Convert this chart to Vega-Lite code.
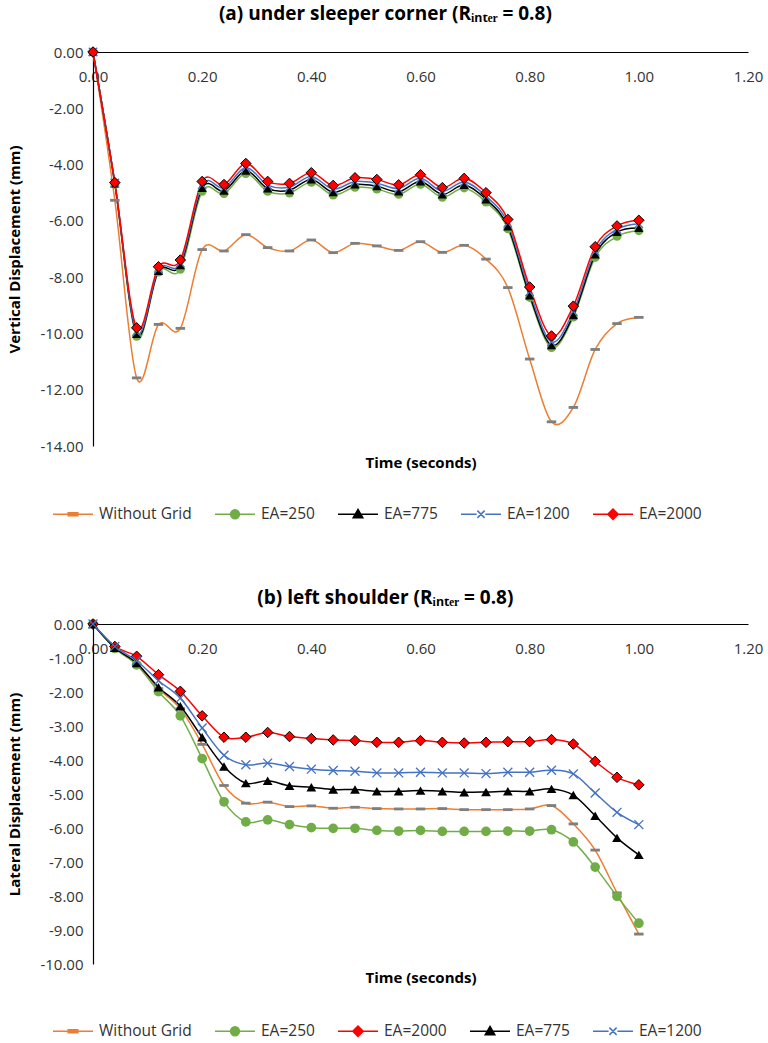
{
  "$schema": "https://vega.github.io/schema/vega-lite/v6.json",
  "background": "white",
  "padding": {"left": 7, "top": 4, "right": 4, "bottom": 0},
  "config": {
    "font": "Open Sans",
    "view": {"stroke": null},
    "locale": {"number": {"decimal": ".", "thousands": ",", "grouping": [3], "currency": ["$", ""], "minus": "-"}},
    "axis": {"labelFont": "Open Sans", "labelFontSize": 15, "labelColor": "#333333", "titleFont": "Open Sans", "titleFontSize": 15, "titleFontWeight": "bold", "titleColor": "#000000", "domainColor": "#000000", "domainWidth": 1.2, "ticks": false, "grid": false, "labelFlush": false, "labelOverlap": false},
    "legend": {"labelFont": "Open Sans", "labelFontSize": 15.5, "labelColor": "#333333", "padding": 0},
    "title": {"font": "Open Sans", "fontSize": 19, "fontWeight": "bold", "color": "#000000"}
  },
  "datasets": {
    "top": [
      {"t":0,"v":0,"s":"Without Grid"},{"t":0.04,"v":-5.27,"s":"Without Grid"},{"t":0.08,"v":-11.58,"s":"Without Grid"},{"t":0.12,"v":-9.68,"s":"Without Grid"},{"t":0.16,"v":-9.82,"s":"Without Grid"},{"t":0.2,"v":-7.02,"s":"Without Grid"},{"t":0.24,"v":-7.07,"s":"Without Grid"},{"t":0.28,"v":-6.49,"s":"Without Grid"},{"t":0.32,"v":-6.95,"s":"Without Grid"},{"t":0.36,"v":-7.07,"s":"Without Grid"},{"t":0.4,"v":-6.68,"s":"Without Grid"},{"t":0.44,"v":-7.13,"s":"Without Grid"},{"t":0.48,"v":-6.8,"s":"Without Grid"},{"t":0.52,"v":-6.89,"s":"Without Grid"},{"t":0.56,"v":-7.05,"s":"Without Grid"},{"t":0.6,"v":-6.74,"s":"Without Grid"},{"t":0.64,"v":-7.12,"s":"Without Grid"},{"t":0.68,"v":-6.87,"s":"Without Grid"},{"t":0.72,"v":-7.36,"s":"Without Grid"},{"t":0.76,"v":-8.37,"s":"Without Grid"},{"t":0.8,"v":-10.91,"s":"Without Grid"},{"t":0.84,"v":-13.14,"s":"Without Grid"},{"t":0.88,"v":-12.63,"s":"Without Grid"},{"t":0.92,"v":-10.57,"s":"Without Grid"},{"t":0.96,"v":-9.65,"s":"Without Grid"},{"t":1,"v":-9.43,"s":"Without Grid"},
      {"t":0,"v":0,"s":"EA=250"},{"t":0.04,"v":-4.7,"s":"EA=250"},{"t":0.08,"v":-10.1,"s":"EA=250"},{"t":0.12,"v":-7.82,"s":"EA=250"},{"t":0.16,"v":-7.72,"s":"EA=250"},{"t":0.2,"v":-4.95,"s":"EA=250"},{"t":0.24,"v":-5.03,"s":"EA=250"},{"t":0.28,"v":-4.32,"s":"EA=250"},{"t":0.32,"v":-4.95,"s":"EA=250"},{"t":0.36,"v":-5.01,"s":"EA=250"},{"t":0.4,"v":-4.63,"s":"EA=250"},{"t":0.44,"v":-5.08,"s":"EA=250"},{"t":0.48,"v":-4.81,"s":"EA=250"},{"t":0.52,"v":-4.87,"s":"EA=250"},{"t":0.56,"v":-5.06,"s":"EA=250"},{"t":0.6,"v":-4.7,"s":"EA=250"},{"t":0.64,"v":-5.16,"s":"EA=250"},{"t":0.68,"v":-4.83,"s":"EA=250"},{"t":0.72,"v":-5.33,"s":"EA=250"},{"t":0.76,"v":-6.28,"s":"EA=250"},{"t":0.8,"v":-8.72,"s":"EA=250"},{"t":0.84,"v":-10.5,"s":"EA=250"},{"t":0.88,"v":-9.42,"s":"EA=250"},{"t":0.92,"v":-7.3,"s":"EA=250"},{"t":0.96,"v":-6.55,"s":"EA=250"},{"t":1,"v":-6.35,"s":"EA=250"},
      {"t":0,"v":0,"s":"EA=775"},{"t":0.04,"v":-4.67,"s":"EA=775"},{"t":0.08,"v":-10.02,"s":"EA=775"},{"t":0.12,"v":-7.78,"s":"EA=775"},{"t":0.16,"v":-7.58,"s":"EA=775"},{"t":0.2,"v":-4.83,"s":"EA=775"},{"t":0.24,"v":-4.93,"s":"EA=775"},{"t":0.28,"v":-4.22,"s":"EA=775"},{"t":0.32,"v":-4.85,"s":"EA=775"},{"t":0.36,"v":-4.91,"s":"EA=775"},{"t":0.4,"v":-4.53,"s":"EA=775"},{"t":0.44,"v":-4.98,"s":"EA=775"},{"t":0.48,"v":-4.71,"s":"EA=775"},{"t":0.52,"v":-4.77,"s":"EA=775"},{"t":0.56,"v":-4.96,"s":"EA=775"},{"t":0.6,"v":-4.6,"s":"EA=775"},{"t":0.64,"v":-5.06,"s":"EA=775"},{"t":0.68,"v":-4.73,"s":"EA=775"},{"t":0.72,"v":-5.24,"s":"EA=775"},{"t":0.76,"v":-6.2,"s":"EA=775"},{"t":0.8,"v":-8.65,"s":"EA=775"},{"t":0.84,"v":-10.42,"s":"EA=775"},{"t":0.88,"v":-9.35,"s":"EA=775"},{"t":0.92,"v":-7.2,"s":"EA=775"},{"t":0.96,"v":-6.4,"s":"EA=775"},{"t":1,"v":-6.25,"s":"EA=775"},
      {"t":0,"v":0,"s":"EA=1200"},{"t":0.04,"v":-4.65,"s":"EA=1200"},{"t":0.08,"v":-9.95,"s":"EA=1200"},{"t":0.12,"v":-7.72,"s":"EA=1200"},{"t":0.16,"v":-7.5,"s":"EA=1200"},{"t":0.2,"v":-4.72,"s":"EA=1200"},{"t":0.24,"v":-4.83,"s":"EA=1200"},{"t":0.28,"v":-4.1,"s":"EA=1200"},{"t":0.32,"v":-4.73,"s":"EA=1200"},{"t":0.36,"v":-4.8,"s":"EA=1200"},{"t":0.4,"v":-4.42,"s":"EA=1200"},{"t":0.44,"v":-4.87,"s":"EA=1200"},{"t":0.48,"v":-4.6,"s":"EA=1200"},{"t":0.52,"v":-4.66,"s":"EA=1200"},{"t":0.56,"v":-4.85,"s":"EA=1200"},{"t":0.6,"v":-4.49,"s":"EA=1200"},{"t":0.64,"v":-4.95,"s":"EA=1200"},{"t":0.68,"v":-4.62,"s":"EA=1200"},{"t":0.72,"v":-5.13,"s":"EA=1200"},{"t":0.76,"v":-6.08,"s":"EA=1200"},{"t":0.8,"v":-8.52,"s":"EA=1200"},{"t":0.84,"v":-10.3,"s":"EA=1200"},{"t":0.88,"v":-9.22,"s":"EA=1200"},{"t":0.92,"v":-7.08,"s":"EA=1200"},{"t":0.96,"v":-6.3,"s":"EA=1200"},{"t":1,"v":-6.1,"s":"EA=1200"},
      {"t":0,"v":0,"s":"EA=2000"},{"t":0.04,"v":-4.64,"s":"EA=2000"},{"t":0.08,"v":-9.8,"s":"EA=2000"},{"t":0.12,"v":-7.63,"s":"EA=2000"},{"t":0.16,"v":-7.39,"s":"EA=2000"},{"t":0.2,"v":-4.6,"s":"EA=2000"},{"t":0.24,"v":-4.71,"s":"EA=2000"},{"t":0.28,"v":-3.96,"s":"EA=2000"},{"t":0.32,"v":-4.6,"s":"EA=2000"},{"t":0.36,"v":-4.67,"s":"EA=2000"},{"t":0.4,"v":-4.29,"s":"EA=2000"},{"t":0.44,"v":-4.74,"s":"EA=2000"},{"t":0.48,"v":-4.47,"s":"EA=2000"},{"t":0.52,"v":-4.53,"s":"EA=2000"},{"t":0.56,"v":-4.72,"s":"EA=2000"},{"t":0.6,"v":-4.36,"s":"EA=2000"},{"t":0.64,"v":-4.82,"s":"EA=2000"},{"t":0.68,"v":-4.49,"s":"EA=2000"},{"t":0.72,"v":-5.0,"s":"EA=2000"},{"t":0.76,"v":-5.95,"s":"EA=2000"},{"t":0.8,"v":-8.35,"s":"EA=2000"},{"t":0.84,"v":-10.09,"s":"EA=2000"},{"t":0.88,"v":-9.03,"s":"EA=2000"},{"t":0.92,"v":-6.92,"s":"EA=2000"},{"t":0.96,"v":-6.18,"s":"EA=2000"},{"t":1,"v":-5.98,"s":"EA=2000"}
    ],
    "bottom": [
      {"t":0,"v":0,"s":"Without Grid"},{"t":0.04,"v":-0.7,"s":"Without Grid"},{"t":0.08,"v":-1.18,"s":"Without Grid"},{"t":0.12,"v":-1.9,"s":"Without Grid"},{"t":0.16,"v":-2.49,"s":"Without Grid"},{"t":0.2,"v":-3.54,"s":"Without Grid"},{"t":0.24,"v":-4.75,"s":"Without Grid"},{"t":0.28,"v":-5.27,"s":"Without Grid"},{"t":0.32,"v":-5.24,"s":"Without Grid"},{"t":0.36,"v":-5.37,"s":"Without Grid"},{"t":0.4,"v":-5.35,"s":"Without Grid"},{"t":0.44,"v":-5.42,"s":"Without Grid"},{"t":0.48,"v":-5.39,"s":"Without Grid"},{"t":0.52,"v":-5.43,"s":"Without Grid"},{"t":0.56,"v":-5.44,"s":"Without Grid"},{"t":0.6,"v":-5.44,"s":"Without Grid"},{"t":0.64,"v":-5.43,"s":"Without Grid"},{"t":0.68,"v":-5.46,"s":"Without Grid"},{"t":0.72,"v":-5.46,"s":"Without Grid"},{"t":0.76,"v":-5.46,"s":"Without Grid"},{"t":0.8,"v":-5.44,"s":"Without Grid"},{"t":0.84,"v":-5.34,"s":"Without Grid"},{"t":0.88,"v":-5.88,"s":"Without Grid"},{"t":0.92,"v":-6.65,"s":"Without Grid"},{"t":0.96,"v":-7.91,"s":"Without Grid"},{"t":1,"v":-9.12,"s":"Without Grid"},
      {"t":0,"v":0,"s":"EA=250"},{"t":0.04,"v":-0.72,"s":"EA=250"},{"t":0.08,"v":-1.2,"s":"EA=250"},{"t":0.12,"v":-1.99,"s":"EA=250"},{"t":0.16,"v":-2.7,"s":"EA=250"},{"t":0.2,"v":-3.96,"s":"EA=250"},{"t":0.24,"v":-5.23,"s":"EA=250"},{"t":0.28,"v":-5.82,"s":"EA=250"},{"t":0.32,"v":-5.76,"s":"EA=250"},{"t":0.36,"v":-5.9,"s":"EA=250"},{"t":0.4,"v":-5.99,"s":"EA=250"},{"t":0.44,"v":-6.01,"s":"EA=250"},{"t":0.48,"v":-6.01,"s":"EA=250"},{"t":0.52,"v":-6.07,"s":"EA=250"},{"t":0.56,"v":-6.09,"s":"EA=250"},{"t":0.6,"v":-6.07,"s":"EA=250"},{"t":0.64,"v":-6.1,"s":"EA=250"},{"t":0.68,"v":-6.1,"s":"EA=250"},{"t":0.72,"v":-6.1,"s":"EA=250"},{"t":0.76,"v":-6.09,"s":"EA=250"},{"t":0.8,"v":-6.09,"s":"EA=250"},{"t":0.84,"v":-6.05,"s":"EA=250"},{"t":0.88,"v":-6.41,"s":"EA=250"},{"t":0.92,"v":-7.15,"s":"EA=250"},{"t":0.96,"v":-8.01,"s":"EA=250"},{"t":1,"v":-8.8,"s":"EA=250"},
      {"t":0,"v":0,"s":"EA=2000"},{"t":0.04,"v":-0.66,"s":"EA=2000"},{"t":0.08,"v":-0.95,"s":"EA=2000"},{"t":0.12,"v":-1.49,"s":"EA=2000"},{"t":0.16,"v":-1.98,"s":"EA=2000"},{"t":0.2,"v":-2.7,"s":"EA=2000"},{"t":0.24,"v":-3.33,"s":"EA=2000"},{"t":0.28,"v":-3.33,"s":"EA=2000"},{"t":0.32,"v":-3.19,"s":"EA=2000"},{"t":0.36,"v":-3.31,"s":"EA=2000"},{"t":0.4,"v":-3.37,"s":"EA=2000"},{"t":0.44,"v":-3.41,"s":"EA=2000"},{"t":0.48,"v":-3.43,"s":"EA=2000"},{"t":0.52,"v":-3.48,"s":"EA=2000"},{"t":0.56,"v":-3.48,"s":"EA=2000"},{"t":0.6,"v":-3.43,"s":"EA=2000"},{"t":0.64,"v":-3.48,"s":"EA=2000"},{"t":0.68,"v":-3.5,"s":"EA=2000"},{"t":0.72,"v":-3.48,"s":"EA=2000"},{"t":0.76,"v":-3.46,"s":"EA=2000"},{"t":0.8,"v":-3.46,"s":"EA=2000"},{"t":0.84,"v":-3.4,"s":"EA=2000"},{"t":0.88,"v":-3.53,"s":"EA=2000"},{"t":0.92,"v":-4.04,"s":"EA=2000"},{"t":0.96,"v":-4.51,"s":"EA=2000"},{"t":1,"v":-4.73,"s":"EA=2000"},
      {"t":0,"v":0,"s":"EA=775"},{"t":0.04,"v":-0.7,"s":"EA=775"},{"t":0.08,"v":-1.15,"s":"EA=775"},{"t":0.12,"v":-1.86,"s":"EA=775"},{"t":0.16,"v":-2.42,"s":"EA=775"},{"t":0.2,"v":-3.33,"s":"EA=775"},{"t":0.24,"v":-4.19,"s":"EA=775"},{"t":0.28,"v":-4.68,"s":"EA=775"},{"t":0.32,"v":-4.61,"s":"EA=775"},{"t":0.36,"v":-4.76,"s":"EA=775"},{"t":0.4,"v":-4.8,"s":"EA=775"},{"t":0.44,"v":-4.87,"s":"EA=775"},{"t":0.48,"v":-4.87,"s":"EA=775"},{"t":0.52,"v":-4.92,"s":"EA=775"},{"t":0.56,"v":-4.92,"s":"EA=775"},{"t":0.6,"v":-4.9,"s":"EA=775"},{"t":0.64,"v":-4.92,"s":"EA=775"},{"t":0.68,"v":-4.95,"s":"EA=775"},{"t":0.72,"v":-4.94,"s":"EA=775"},{"t":0.76,"v":-4.92,"s":"EA=775"},{"t":0.8,"v":-4.92,"s":"EA=775"},{"t":0.84,"v":-4.85,"s":"EA=775"},{"t":0.88,"v":-5.03,"s":"EA=775"},{"t":0.92,"v":-5.64,"s":"EA=775"},{"t":0.96,"v":-6.29,"s":"EA=775"},{"t":1,"v":-6.79,"s":"EA=775"},
      {"t":0,"v":0,"s":"EA=1200"},{"t":0.04,"v":-0.66,"s":"EA=1200"},{"t":0.08,"v":-1.08,"s":"EA=1200"},{"t":0.12,"v":-1.67,"s":"EA=1200"},{"t":0.16,"v":-2.18,"s":"EA=1200"},{"t":0.2,"v":-3.06,"s":"EA=1200"},{"t":0.24,"v":-3.86,"s":"EA=1200"},{"t":0.28,"v":-4.14,"s":"EA=1200"},{"t":0.32,"v":-4.09,"s":"EA=1200"},{"t":0.36,"v":-4.19,"s":"EA=1200"},{"t":0.4,"v":-4.27,"s":"EA=1200"},{"t":0.44,"v":-4.31,"s":"EA=1200"},{"t":0.48,"v":-4.33,"s":"EA=1200"},{"t":0.52,"v":-4.38,"s":"EA=1200"},{"t":0.56,"v":-4.38,"s":"EA=1200"},{"t":0.6,"v":-4.36,"s":"EA=1200"},{"t":0.64,"v":-4.38,"s":"EA=1200"},{"t":0.68,"v":-4.38,"s":"EA=1200"},{"t":0.72,"v":-4.4,"s":"EA=1200"},{"t":0.76,"v":-4.36,"s":"EA=1200"},{"t":0.8,"v":-4.36,"s":"EA=1200"},{"t":0.84,"v":-4.3,"s":"EA=1200"},{"t":0.88,"v":-4.41,"s":"EA=1200"},{"t":0.92,"v":-4.97,"s":"EA=1200"},{"t":0.96,"v":-5.54,"s":"EA=1200"},{"t":1,"v":-5.9,"s":"EA=1200"}
    ]
  },
  "spacing": 65,
  "resolve": {
    "scale": {"x": "independent", "y": "independent", "color": "independent"},
    "axis": {"x": "independent", "y": "independent"},
    "legend": {"color": "independent"}
  },
  "vconcat": [
    {
      "title": {"text": "(a) under sleeper corner (Rᵢₙₜₑᵣ = 0.8)", "frame": "bounds", "anchor": "middle", "offset": 21},
      "width": 655,
      "height": 394,
      "data": {"name": "top"},
      "encoding": {
        "x": {"field": "t", "type": "quantitative", "scale": {"domain": [0, 1.2], "nice": false, "zero": false},
          "axis": {"orient": "bottom", "offset": -394, "values": [0, 0.2, 0.4, 0.6, 0.8, 1.0, 1.2], "format": ".2f", "labelPadding": 17, "title": "Time (seconds)", "titleBaseline": "top", "titleY": 403}},
        "y": {"field": "v", "type": "quantitative", "scale": {"domain": [-14, 0], "nice": false, "zero": false},
          "axis": {"values": [-14, -12, -10, -8, -6, -4, -2, 0], "format": ".2f", "labelPadding": 10, "title": "Vertical Displacement (mm)", "titlePadding": 17}}
      },
      "layer": [
        {
          "mark": {"type": "line", "interpolate": "cardinal", "strokeWidth": 1.5},
          "encoding": {
            "color": {"field": "s", "type": "nominal",
              "scale": {"domain": ["Without Grid", "EA=250", "EA=775", "EA=1200", "EA=2000"], "range": ["#ed7d31", "#70ad47", "#000000", "#4472c4", "#ff0000"]},
              "legend": {"orient": "none", "legendX": -41, "legendY": 441, "direction": "horizontal", "columns": 5, "title": null, "symbolSize": 1600, "labelOffset": 5, "columnPadding": 20, "symbolStrokeWidth": 1.5,
                "encode": {"symbols": {"update": {
                  "shape": {"signal": "datum.value==='Without Grid'?'M-1,0H1M-0.24,-0.08H0.24V0.08H-0.24Z':datum.value==='EA=250'?'M-1,0H1M0.22,0A0.22,0.22,0,1,1,-0.22,0A0.22,0.22,0,1,1,0.22,0Z':datum.value==='EA=775'?'M-1,0H1M0,-0.24L0.24,0.18H-0.24Z':datum.value==='EA=1200'?'M-1,0H-0.22M0.22,0H1M-0.18,-0.18L0.18,0.18M-0.18,0.18L0.18,-0.18':'M-1,0H1M0,-0.26L0.26,0L0,0.26L-0.26,0Z'"},
                  "fill": {"signal": "datum.value==='Without Grid'?'#7f7f7f':datum.value==='EA=250'?'#70ad47':datum.value==='EA=775'?'#000000':datum.value==='EA=1200'?'transparent':'#ff0000'"},
                  "fillOpacity": {"value": 1},
                  "opacity": {"value": 1},
                  "strokeWidth": {"value": 1.5}
                }}}}
            }
          }
        },
        {"transform": [{"filter": "datum.s === 'Without Grid'"}], "mark": {"type": "point", "shape": "M-1,-0.3H1V0.3H-1Z", "size": 90, "filled": true, "fill": "#7f7f7f", "strokeWidth": 0, "opacity": 1}},
        {"transform": [{"filter": "datum.s === 'EA=250'"}], "mark": {"type": "point", "shape": "circle", "size": 80, "filled": true, "fill": "#70ad47", "strokeWidth": 0, "opacity": 1}},
        {"transform": [{"filter": "datum.s === 'EA=775'"}], "mark": {"type": "point", "shape": "triangle-up", "size": 85, "filled": true, "fill": "#000000", "strokeWidth": 0, "opacity": 1}},
        {"transform": [{"filter": "datum.s === 'EA=1200'"}], "mark": {"type": "point", "shape": "M-1,-1L1,1M-1,1L1,-1", "size": 70, "filled": false, "fill": "transparent", "stroke": "#4472c4", "strokeWidth": 1.3, "opacity": 1}},
        {"transform": [{"filter": "datum.s === 'EA=2000'"}], "mark": {"type": "point", "shape": "diamond", "size": 110, "filled": true, "fill": "#ff0000", "stroke": "#000000", "strokeWidth": 1, "opacity": 1}}
      ]
    },
    {
      "title": {"text": "(b) left shoulder (Rᵢₙₜₑᵣ = 0.8)", "frame": "bounds", "anchor": "middle", "offset": 9},
      "width": 655,
      "height": 340,
      "data": {"name": "bottom"},
      "encoding": {
        "x": {"field": "t", "type": "quantitative", "scale": {"domain": [0, 1.2], "nice": false, "zero": false},
          "axis": {"orient": "bottom", "offset": -340, "values": [0, 0.2, 0.4, 0.6, 0.8, 1.0, 1.2], "format": ".2f", "labelPadding": 17, "title": "Time (seconds)", "titleBaseline": "top", "titleY": 346}},
        "y": {"field": "v", "type": "quantitative", "scale": {"domain": [-10, 0], "nice": false, "zero": false},
          "axis": {"values": [-10, -9, -8, -7, -6, -5, -4, -3, -2, -1, 0], "format": ".2f", "labelPadding": 10, "title": "Lateral Displacement (mm)", "titlePadding": 17}}
      },
      "layer": [
        {
          "mark": {"type": "line", "interpolate": "cardinal", "strokeWidth": 1.5},
          "encoding": {
            "color": {"field": "s", "type": "nominal",
              "scale": {"domain": ["Without Grid", "EA=250", "EA=2000", "EA=775", "EA=1200"], "range": ["#ed7d31", "#70ad47", "#ff0000", "#000000", "#4472c4"]},
              "legend": {"orient": "none", "legendX": -41, "legendY": 386, "direction": "horizontal", "columns": 5, "title": null, "symbolSize": 1600, "labelOffset": 5, "columnPadding": 20, "symbolStrokeWidth": 1.5,
                "encode": {"symbols": {"update": {
                  "shape": {"signal": "datum.value==='Without Grid'?'M-1,0H1M-0.24,-0.08H0.24V0.08H-0.24Z':datum.value==='EA=250'?'M-1,0H1M0.22,0A0.22,0.22,0,1,1,-0.22,0A0.22,0.22,0,1,1,0.22,0Z':datum.value==='EA=775'?'M-1,0H1M0,-0.24L0.24,0.18H-0.24Z':datum.value==='EA=1200'?'M-1,0H-0.22M0.22,0H1M-0.18,-0.18L0.18,0.18M-0.18,0.18L0.18,-0.18':'M-1,0H1M0,-0.26L0.26,0L0,0.26L-0.26,0Z'"},
                  "fill": {"signal": "datum.value==='Without Grid'?'#7f7f7f':datum.value==='EA=250'?'#70ad47':datum.value==='EA=775'?'#000000':datum.value==='EA=1200'?'transparent':'#ff0000'"},
                  "fillOpacity": {"value": 1},
                  "opacity": {"value": 1},
                  "strokeWidth": {"value": 1.5}
                }}}}
            }
          }
        },
        {"transform": [{"filter": "datum.s === 'Without Grid'"}], "mark": {"type": "point", "shape": "M-1,-0.3H1V0.3H-1Z", "size": 90, "filled": true, "fill": "#7f7f7f", "strokeWidth": 0, "opacity": 1}},
        {"transform": [{"filter": "datum.s === 'EA=250'"}], "mark": {"type": "point", "shape": "circle", "size": 95, "filled": true, "fill": "#70ad47", "strokeWidth": 0, "opacity": 1}},
        {"transform": [{"filter": "datum.s === 'EA=2000'"}], "mark": {"type": "point", "shape": "diamond", "size": 110, "filled": true, "fill": "#ff0000", "stroke": "#000000", "strokeWidth": 1, "opacity": 1}},
        {"transform": [{"filter": "datum.s === 'EA=775'"}], "mark": {"type": "point", "shape": "triangle-up", "size": 95, "filled": true, "fill": "#000000", "strokeWidth": 0, "opacity": 1}},
        {"transform": [{"filter": "datum.s === 'EA=1200'"}], "mark": {"type": "point", "shape": "M-1,-1L1,1M-1,1L1,-1", "size": 80, "filled": false, "fill": "transparent", "stroke": "#4472c4", "strokeWidth": 1.3, "opacity": 1}}
      ]
    }
  ]
}
